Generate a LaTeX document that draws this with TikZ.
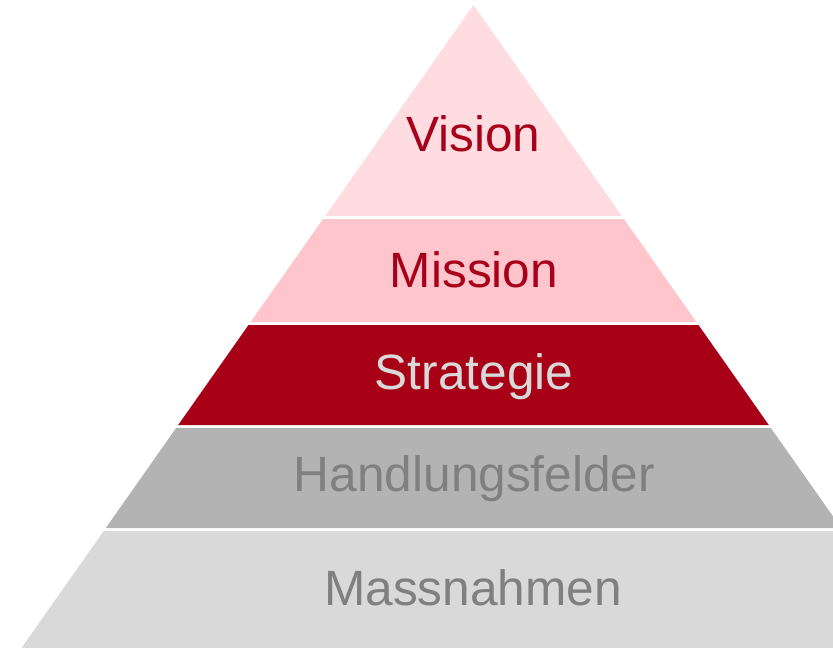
\documentclass[tikz,border=0pt]{standalone}
\usepackage{fontspec}
\setmainfont{Liberation Sans}
\definecolor{visionfill}{HTML}{FFDCE0}
\definecolor{missionfill}{HTML}{FFC5CC}
\definecolor{stratfill}{HTML}{A80016}
\definecolor{handfill}{HTML}{B3B3B3}
\definecolor{massfill}{HTML}{D9D9D9}
\definecolor{redtext}{HTML}{A8001A}
\definecolor{lighttext}{HTML}{D9D9D9}
\definecolor{graytext}{HTML}{808080}
\begin{document}
\begin{tikzpicture}[x=1pt,y=-1pt,
  lbl/.style={anchor=base,inner sep=0pt,font=\fontsize{49.6}{58}\selectfont}]
\useasboundingbox (0,0) rectangle (833,648);
\clip (0,0) rectangle (833,648);
% layers
\fill[visionfill] (473.5,5) -- (621.8,216) -- (325.2,216) -- cycle;
\fill[missionfill] (323.1,219) -- (623.9,219) -- (696.4,322) -- (250.6,322) -- cycle;
\fill[stratfill] (248.5,325) -- (698.5,325) -- (768.8,425) -- (178.2,425) -- cycle;
\fill[handfill] (176.1,428) -- (770.9,428) -- (841.2,528) -- (105.8,528) -- cycle;
\fill[massfill] (103.7,531) -- (843.3,531) -- (925.5,648) -- (21.5,648) -- cycle;
% labels
\node[lbl,text=redtext] (vision) at (473.5,151) {Vision};
\node[lbl,text=redtext] (mission) at (474,287) {Mission};
\node[lbl,text=lighttext] (strategie) at (474,389) {Strategie};
\node[lbl,text=graytext] (handlungsfelder) at (474.5,491) {Handlungsfelder};
\node[lbl,text=graytext] (massnahmen) at (473,605) {Massnahmen};
\end{tikzpicture}
\end{document}
